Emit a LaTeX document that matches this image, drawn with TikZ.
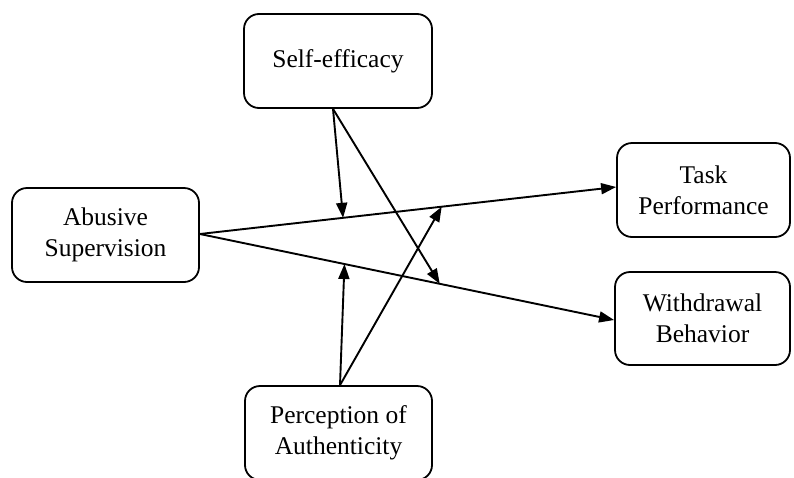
\documentclass[tikz,border=0pt]{standalone}
\usepackage{fontspec}
\setmainfont{Liberation Serif}
\usetikzlibrary{arrows.meta,calc}
\begin{document}
\begin{tikzpicture}[x=1pt,y=-1pt,
  box/.style={draw,line width=1.8pt,rounded corners=15pt,align=center,
    font=\fontsize{25.5}{31}\selectfont,inner sep=0pt},
  conn/.style={line width=1.9pt,-{Triangle[length=15pt,width=11pt]}}]
\useasboundingbox (0,0) rectangle (794,477);
\node[box,minimum width=188pt,minimum height=94pt] (se) at (338,61) {Self-efficacy};
\node[box,minimum width=187pt,minimum height=94pt] (ab) at (105.5,235) {Abusive\\Supervision};
\node[box,minimum width=173pt,minimum height=94pt] (tp) at (703.5,190) {Task\\Performance};
\node[box,minimum width=175pt,minimum height=93pt] (wd) at (702.5,318.5) {Withdrawal\\Behavior};
\node[box,minimum width=187pt,minimum height=94pt] (pa) at (338.5,433) {Perception of\\Authenticity};
\coordinate (tpin) at ($(tp.west)+(0,-3)$);
\coordinate (wdin) at ($(wd.west)+(0,1.5)$);
\coordinate (about) at ($(ab.east)+(0,-1)$);
\draw[conn] (about) -- (tpin);
\draw[conn] (about) -- (wdin);
\path (about) -- (tpin) coordinate[pos=0.344] (m1) coordinate[pos=0.581] (m4);
\path (about) -- (wdin) coordinate[pos=0.349] (m3) coordinate[pos=0.579] (m2);
\coordinate (seout) at ($(se.south)+(-5,0)$);
\coordinate (paout) at ($(pa.north)+(1.5,0)$);
\draw[conn] (seout) -- (m1);
\draw[conn] (seout) -- (m2);
\draw[conn] (paout) -- (m3);
\draw[conn] (paout) -- (m4);
\end{tikzpicture}
\end{document}
